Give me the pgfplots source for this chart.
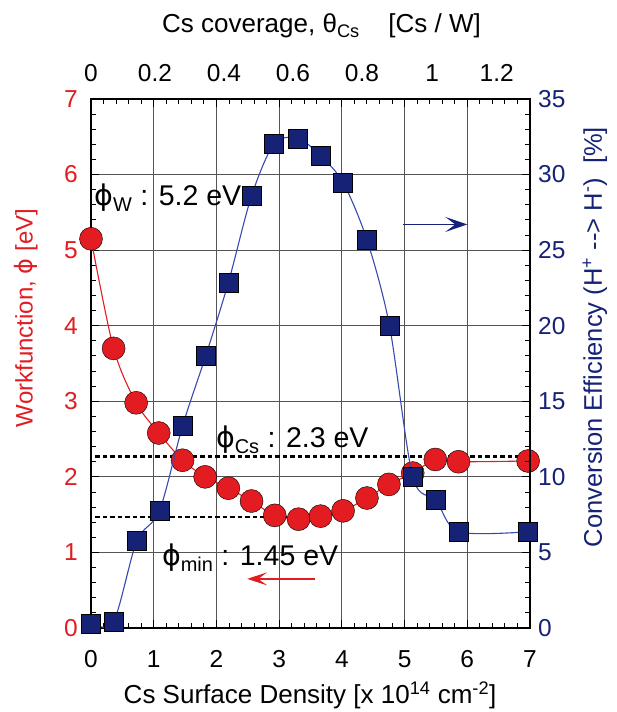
\documentclass[border=0pt]{standalone}
\usepackage{pgfplots}
\pgfplotsset{compat=1.18}
\usepackage{fontspec}
\setmainfont{Liberation Sans}
\newfontfamily\dejavu{DejaVu Sans}
\usetikzlibrary{arrows.meta}
\definecolor{wred}{RGB}{226,28,32}
\definecolor{cblue}{RGB}{22,34,118}
\definecolor{lblue}{RGB}{55,75,175}
\definecolor{gridgray}{RGB}{85,85,85}
\newcommand{\ph}{{\dejavu ϕ}}
\begin{document}
\fontsize{24.5}{28}\selectfont
\begin{tikzpicture}
\pgfplotsset{
  every axis/.append style={
    scale only axis, width=439pt, height=529pt,
    xmin=0, xmax=7,
    /pgf/number format/assume math mode=true,
    clip=false,
    axis line style={line width=1.3pt},
    tick style={black, line width=0.9pt},
    major tick length=8pt, minor tick length=5pt,
    tick align=inside,
  }
}
\begin{axis}[
  name=main,
  ymin=0, ymax=7,
  xtick={0,1,...,7}, ytick={0,1,...,7},
  minor x tick num=4, minor y tick num=4,
  xtick pos=both, ytick pos=left,
  xticklabel pos=lower,
  grid=major, major grid style={gridgray, line width=0.8pt},
  xticklabel style={black, anchor=north, inner sep=0pt, yshift=-22pt},
  yticklabel style={wred, anchor=east, inner sep=0pt, xshift=-13pt},
]
% dashed reference lines
\addplot[black, line width=2.3pt, dash pattern=on 4.5pt off 3pt] coordinates {(0.07,2.27) (7,2.27)};
\addplot[black, line width=2.3pt, dash pattern=on 4.5pt off 3pt] coordinates {(0.07,1.47) (3.3,1.47)};
% workfunction
\addplot[wred, line width=1.1pt, smooth, tension=0.5] coordinates {
(0,5.15)(0.36,3.70)(0.72,2.98)(1.08,2.58)(1.46,2.22)(1.82,2.00)(2.19,1.85)(2.56,1.68)(2.93,1.49)(3.31,1.44)(3.66,1.48)(4.02,1.55)(4.40,1.72)(4.75,1.90)(5.13,2.05)(5.49,2.23)(5.86,2.20)(6.97,2.21)};
\addplot[only marks, mark=*, mark size=11.5pt, mark options={draw=none, fill=wred}] coordinates {
(0,5.15)(0.36,3.70)(0.72,2.98)(1.08,2.58)(1.46,2.22)(1.82,2.00)(2.19,1.85)(2.56,1.68)(2.93,1.49)(3.31,1.44)(3.66,1.48)(4.02,1.55)(4.40,1.72)(4.75,1.90)(5.13,2.05)(5.49,2.23)(5.86,2.20)(6.97,2.21)};
% annotations
\node[anchor=west, inner sep=0pt, black, font=\fontsize{28.5}{32}\selectfont] at (axis cs:0.05,5.69) {\ph\textsubscript{W} : 5.2 eV};
\node[anchor=west, inner sep=0pt, black, font=\fontsize{28.5}{32}\selectfont] at (axis cs:1.99,2.49) {\ph\textsubscript{Cs} : 2.3 eV};
\node[anchor=west, inner sep=0pt, black, font=\fontsize{28.5}{32}\selectfont] at (axis cs:1.13,0.93) {\ph\textsubscript{min} : 1.45 eV};
\draw[wred, line width=1.3pt, -{Stealth[length=20pt,width=13pt,inset=9pt]}] (axis cs:3.57,0.65) -- (axis cs:2.49,0.65);
\draw[cblue, line width=1.6pt, -{Stealth[length=22pt,width=15pt,inset=10pt]}] (axis cs:4.98,5.34) -- (axis cs:6.0,5.34);
% axis titles
\node[rotate=90, wred, font=\fontsize{24}{28}\selectfont] at (rel axis cs:-0.148,0.586) {Workfunction, \ph{} [eV]};
\node[rotate=90, cblue, font=\fontsize{25.5}{30}\selectfont] at (rel axis cs:1.148,0.55) {Conversion Efficiency (H\textsuperscript{+} {-}{-}> H\textsuperscript{-})\ \ [\%]};
\node[anchor=base, black, font=\fontsize{26}{30}\selectfont] at (rel axis cs:0.499,-0.142) {Cs Surface Density [x 10\textsuperscript{14} cm\textsuperscript{-2}]};
\node[anchor=base, black, font=\fontsize{26}{30}\selectfont] at (rel axis cs:0.525,1.125) {Cs coverage, θ\textsubscript{Cs}\hspace{1.1em}[Cs / W]};
\end{axis}
\begin{axis}[
  ymin=0, ymax=35,
  axis y line*=right, axis x line*=top,
  ytick={0,5,...,35}, minor y tick num=4,
  xtick={0,1.02,2.12,3.22,4.32,5.44,6.47},
  xticklabels={0,0.2,0.4,0.6,0.8,1,1.2},
  xtick style={draw=none},
  xticklabel style={black, anchor=south, inner sep=0pt, yshift=17pt},
  yticklabel style={cblue, anchor=west, inner sep=0pt, xshift=8pt},
]
\addplot[lblue, line width=1.1pt, smooth, tension=0.5] coordinates {
(0,0.31)(0.36,0.42)(0.73,5.76)(1.09,7.74)(1.46,13.37)(1.83,18.02)(2.19,22.85)(2.56,28.59)(2.92,32.03)(3.30,32.4)(3.66,31.24)(4.02,29.47)(4.40,25.68)(4.76,19.99)(5.13,10.01)(5.50,8.47)(5.86,6.37)(6.97,6.37)};
\addplot[only marks, mark=square*, mark size=9.5pt, mark options={draw=none, fill=cblue}] coordinates {
(0,0.31)(0.36,0.42)(0.73,5.76)(1.09,7.74)(1.46,13.37)(1.83,18.02)(2.19,22.85)(2.56,28.59)(2.92,32.03)(3.30,32.4)(3.66,31.24)(4.02,29.47)(4.40,25.68)(4.76,19.99)(5.13,10.01)(5.50,8.47)(5.86,6.37)(6.97,6.37)};
\end{axis}
\pgfresetboundingbox
\path ([shift={(-91pt,-84pt)}]main.south west) rectangle ([shift={(86pt,99pt)}]main.north east);
\end{tikzpicture}
\end{document}
